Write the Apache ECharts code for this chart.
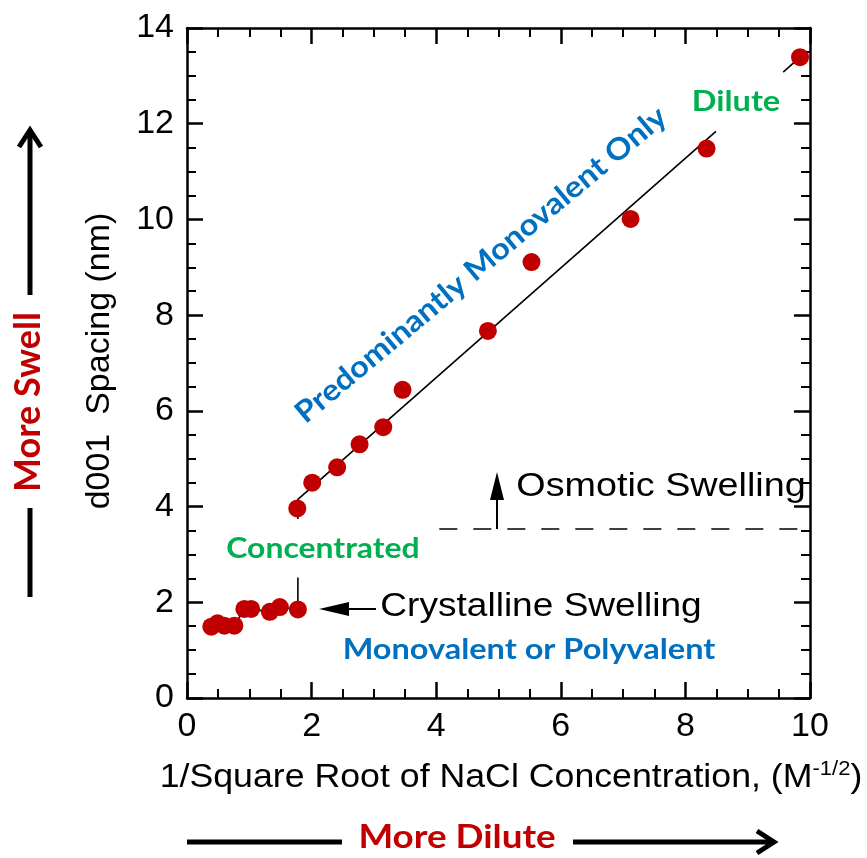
<!DOCTYPE html>
<html>
<head>
<meta charset="utf-8">
<script src="https://cdn.jsdelivr.net/npm/echarts@6/dist/echarts.min.js"></script>
<style>html,body{margin:0;padding:0;background:#fff}#c{width:867px;height:858px}</style>
</head>
<body>
<div id="c"></div>
<script>
// ---- data ----
const crystX = [0.39, 0.49, 0.60, 0.76, 0.92, 1.03, 1.33, 1.49, 1.78];
const crystY = [1.49, 1.56, 1.51, 1.51, 1.86, 1.86, 1.80, 1.90, 1.85];
const osmX = [1.77, 2.01, 2.41, 2.77, 3.15, 3.46, 4.83, 5.53, 7.12, 8.34, 9.84];
const osmY = [3.96, 4.50, 4.82, 5.30, 5.66, 6.44, 7.67, 9.11, 10.01, 11.48, 13.39];
const fitLowerX = [1.78, 1.78, 8.49];
const fitLowerY = [3.74, 4.15, 11.84];
const fitUpperX = [9.57, 9.84];
const fitUpperY = [13.08, 13.39];
const linkX = [1.78, 1.78];
const linkY = [1.85, 2.52];
const boundaryX = [4.05, 10];
const boundaryY = [3.53, 3.53];
const xTickLabels = ['0', '2', '4', '6', '8', '10'];
const yTickLabels = ['0', '2', '4', '6', '8', '10', '12', '14'];

const zip = (xs, ys) => xs.map((x, i) => [x, ys[i]]);
const RED = '#C00000', BLUE = '#0070C0', GREEN = '#00B050';
const SANS = 'Liberation Sans, Arial, sans-serif';
const BOLD = 'Lato, Open Sans, sans-serif';

const chart = echarts.init(document.getElementById('c'), null, {renderer: 'canvas'});

function axisCommon(showLabel, labels, isX) {
  return {
    type: 'value',
    axisLine: {show: true, onZero: false, lineStyle: {color: '#000', width: 2.5}},
    axisTick: {show: true, inside: true, length: 16, lineStyle: {color: '#000', width: 2.5}},
    minorTick: {show: true, splitNumber: 4, length: 9, lineStyle: {color: '#000', width: 2}},
    splitLine: {show: false},
    minorSplitLine: {show: false},
    axisLabel: {
      show: showLabel, color: '#000', fontSize: 34, fontFamily: SANS,
      margin: isX ? 12 : 13,
      formatter: v => labels[Math.round(v / 2)]
    }
  };
}

function label(text, x, y, font, fill, extra) {
  return Object.assign({type: 'text', x: x, y: y, style: {
    text: text, font: font, fill: fill, align: 'center', verticalAlign: 'middle'
  }}, extra || {});
}

const option = {
  animation: false,
  backgroundColor: '#fff',
  grid: {left: 187, top: 28, width: 623, height: 670},
  xAxis: [
    Object.assign(axisCommon(true, xTickLabels, true), {min: 0, max: 10, interval: 2, position: 'bottom'}),
    Object.assign(axisCommon(false, xTickLabels, true), {min: 0, max: 10, interval: 2, position: 'top'})
  ],
  yAxis: [
    Object.assign(axisCommon(true, yTickLabels, false), {min: 0, max: 14, interval: 2, position: 'left'}),
    Object.assign(axisCommon(false, yTickLabels, false), {min: 0, max: 14, interval: 2, position: 'right'})
  ],
  series: [
    {type: 'line', data: zip(fitLowerX, fitLowerY), symbol: 'none', lineStyle: {color: '#000', width: 1.6}, z: 2},
    {type: 'line', data: zip(fitUpperX, fitUpperY), symbol: 'none', lineStyle: {color: '#000', width: 1.6}, z: 2},
    {type: 'line', data: zip(linkX, linkY), symbol: 'none', lineStyle: {color: '#000', width: 1.6}, z: 2},
    {type: 'line', data: zip(crystX, crystY), symbol: 'none', lineStyle: {color: '#000', width: 1.6}, z: 2},
    {type: 'line', data: zip(boundaryX, boundaryY), symbol: 'none', lineStyle: {color: '#000', width: 1.6, type: [18, 16]}, z: 2},
    {type: 'scatter', data: zip(crystX, crystY), symbolSize: 18, itemStyle: {color: RED, opacity: 1}, z: 5},
    {type: 'scatter', data: zip(osmX, osmY), symbolSize: 18, itemStyle: {color: RED, opacity: 1}, z: 5}
  ],
  graphic: [
    // axis titles
    {type: 'text', x: 511, y: 778, scaleX: 1.05, style: {
      text: '1/Square Root of NaCl Concentration, (M{sup|-1/2})',
      font: '34px ' + SANS, fill: '#000', align: 'center', verticalAlign: 'middle',
      rich: {sup: {fontSize: 21, fontFamily: SANS, fill: '#000', verticalAlign: 'top', padding: [0, 0, 18, 0]}}
    }},
    label('d001  Spacing (nm)', 100, 361, '34px ' + SANS, '#000', {rotation: Math.PI / 2}),
    // More Swell (left)
    label('More Swell', 28, 402, 'bold 36px ' + BOLD, RED, {rotation: Math.PI / 2}),
    {type: 'line', shape: {x1: 30, y1: 597, x2: 30, y2: 508}, style: {stroke: '#000', lineWidth: 5}},
    {type: 'line', shape: {x1: 30, y1: 295, x2: 30, y2: 131}, style: {stroke: '#000', lineWidth: 5}},
    {type: 'polyline', shape: {points: [[19, 147], [30, 130], [41, 147]]}, style: {stroke: '#000', lineWidth: 5, fill: null}},
    // More Dilute (bottom)
    label('More Dilute', 457, 838, 'bold 32px ' + BOLD, RED, {scaleX: 1.15}),
    {type: 'line', shape: {x1: 187, y1: 842, x2: 342, y2: 842}, style: {stroke: '#000', lineWidth: 5}},
    {type: 'line', shape: {x1: 573, y1: 842, x2: 772, y2: 842}, style: {stroke: '#000', lineWidth: 5}},
    {type: 'polyline', shape: {points: [[757, 831], [774, 842], [757, 853]]}, style: {stroke: '#000', lineWidth: 5, fill: null}},
    // in-plot annotations
    label('Concentrated', 323, 549, 'bold 29px ' + BOLD, GREEN, {scaleX: 1.1}),
    label('Monovalent or Polyvalent', 529, 650, 'bold 29px ' + BOLD, BLUE, {scaleX: 1.12}),
    label('Dilute', 736, 102, 'bold 29px ' + BOLD, GREEN, {scaleX: 1.12}),
    label('Predominantly Monovalent Only', 481, 265, 'bold 30px ' + BOLD, BLUE, {rotation: 0.697, scaleX: 1.09}),
    label('Osmotic Swelling', 661, 487, '34px ' + SANS, '#000', {scaleX: 1.11}),
    label('Crystalline Swelling', 541, 607, '34px ' + SANS, '#000', {scaleX: 1.09}),
    // arrows inside plot
    {type: 'line', shape: {x1: 497, y1: 529, x2: 497, y2: 496}, style: {stroke: '#000', lineWidth: 2}},
    {type: 'polygon', shape: {points: [[497, 472], [490, 500], [504, 500]]}, style: {fill: '#000'}},
    {type: 'line', shape: {x1: 345, y1: 609, x2: 376, y2: 609}, style: {stroke: '#000', lineWidth: 2}},
    {type: 'polygon', shape: {points: [[319, 609], [349, 602], [349, 616]]}, style: {fill: '#000'}}
  ]
};
chart.setOption(option);
</script>
</body>
</html>
